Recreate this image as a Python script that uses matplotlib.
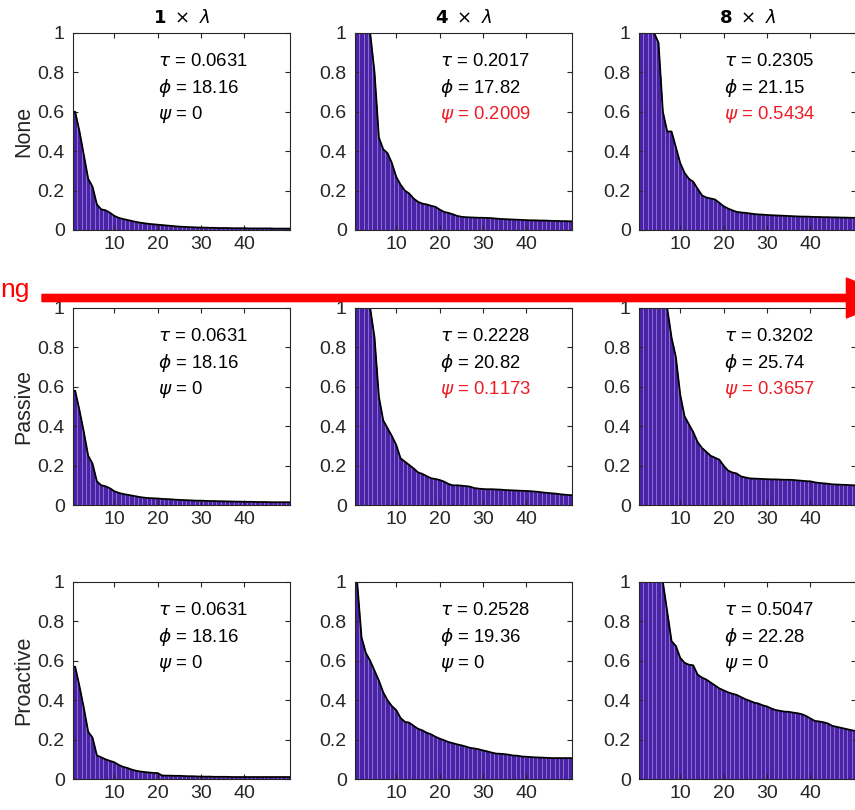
import matplotlib.pyplot as plt
import numpy as np
from matplotlib.patches import FancyArrowPatch

plt.rcParams['font.family'] = ['Liberation Sans', 'DejaVu Sans']
plt.rcParams['mathtext.fontset'] = 'dejavusans'

row_names = ['None', 'Passive', 'Proactive']
scales = ['1', '4', '8']

tau = [[0.0631, 0.2017, 0.2305],
       [0.0631, 0.2228, 0.3202],
       [0.0631, 0.2528, 0.5047]]
phi = [[18.16, 17.82, 21.15],
       [18.16, 20.82, 25.74],
       [18.16, 19.36, 22.28]]
psi = [[0, 0.2009, 0.5434],
       [0, 0.1173, 0.3657],
       [0, 0, 0]]

none_1 = [0.60, 0.50, 0.38, 0.26, 0.22, 0.13, 0.105, 0.10, 0.088, 0.072,
          0.062, 0.056, 0.051, 0.046, 0.041, 0.037, 0.034, 0.031, 0.029, 0.027,
          0.025, 0.023, 0.021, 0.019, 0.017, 0.016, 0.015, 0.014, 0.013, 0.012,
          0.012, 0.011, 0.011, 0.010, 0.010, 0.010, 0.009, 0.009, 0.009, 0.009,
          0.008, 0.008, 0.008, 0.008, 0.008, 0.008, 0.007, 0.007, 0.007, 0.007]
none_4 = [1.0, 1.0, 1.0, 1.0, 0.80, 0.47, 0.41, 0.39, 0.34, 0.27,
          0.23, 0.20, 0.185, 0.16, 0.143, 0.134, 0.13, 0.123, 0.118, 0.104,
          0.092, 0.087, 0.080, 0.072, 0.067, 0.065, 0.064, 0.063, 0.062, 0.062,
          0.061, 0.060, 0.058, 0.056, 0.055, 0.054, 0.053, 0.052, 0.051, 0.050,
          0.049, 0.049, 0.048, 0.048, 0.047, 0.046, 0.046, 0.045, 0.045, 0.044]
none_8 = [1.0, 1.0, 1.0, 1.0, 0.95, 0.60, 0.50, 0.50, 0.42, 0.34,
          0.29, 0.26, 0.245, 0.21, 0.176, 0.165, 0.16, 0.155, 0.138, 0.121,
          0.109, 0.10, 0.092, 0.089, 0.087, 0.084, 0.081, 0.079, 0.078, 0.076,
          0.075, 0.074, 0.073, 0.072, 0.071, 0.070, 0.069, 0.068, 0.068, 0.067,
          0.066, 0.066, 0.065, 0.065, 0.064, 0.064, 0.063, 0.063, 0.062, 0.062]

passive_1 = [0.58, 0.48, 0.37, 0.25, 0.21, 0.12, 0.10, 0.095, 0.085, 0.07,
             0.062, 0.056, 0.052, 0.048, 0.044, 0.040, 0.037, 0.035, 0.034, 0.033,
             0.031, 0.030, 0.029, 0.027, 0.026, 0.025, 0.024, 0.023, 0.022, 0.022,
             0.021, 0.020, 0.020, 0.019, 0.019, 0.018, 0.018, 0.017, 0.017, 0.016,
             0.016, 0.016, 0.015, 0.015, 0.015, 0.014, 0.014, 0.014, 0.014, 0.014]
passive_4 = [1.0, 1.0, 1.0, 1.0, 0.85, 0.55, 0.43, 0.39, 0.35, 0.305,
             0.237, 0.22, 0.203, 0.186, 0.166, 0.158, 0.147, 0.136, 0.132, 0.127,
             0.119, 0.107, 0.10, 0.10, 0.098, 0.096, 0.093, 0.086, 0.083, 0.081,
             0.080, 0.080, 0.079, 0.078, 0.076, 0.075, 0.074, 0.073, 0.072, 0.071,
             0.070, 0.068, 0.066, 0.063, 0.061, 0.059, 0.057, 0.054, 0.052, 0.050]
passive_8 = [1.0, 1.0, 1.0, 1.0, 1.0, 1.0, 1.0, 0.85, 0.75, 0.56,
             0.45, 0.41, 0.37, 0.32, 0.29, 0.27, 0.25, 0.24, 0.23, 0.20,
             0.175, 0.165, 0.16, 0.145, 0.14, 0.135, 0.134, 0.133, 0.132, 0.131,
             0.130, 0.130, 0.129, 0.128, 0.128, 0.127, 0.125, 0.123, 0.121, 0.120,
             0.115, 0.112, 0.110, 0.108, 0.105, 0.104, 0.103, 0.102, 0.101, 0.100]

proactive_1 = [0.57, 0.47, 0.36, 0.24, 0.21, 0.12, 0.11, 0.10, 0.092, 0.085,
               0.072, 0.062, 0.056, 0.048, 0.042, 0.038, 0.035, 0.033, 0.031, 0.030,
               0.018, 0.017, 0.017, 0.016, 0.016, 0.015, 0.014, 0.014, 0.013, 0.012,
               0.012, 0.012, 0.011, 0.011, 0.011, 0.011, 0.010, 0.010, 0.010, 0.010,
               0.010, 0.010, 0.010, 0.010, 0.010, 0.010, 0.010, 0.010, 0.010, 0.010]
proactive_4 = [1.0, 0.72, 0.64, 0.60, 0.55, 0.50, 0.44, 0.40, 0.37, 0.35,
               0.31, 0.29, 0.286, 0.27, 0.255, 0.247, 0.235, 0.227, 0.215, 0.205,
               0.197, 0.188, 0.182, 0.176, 0.171, 0.165, 0.158, 0.155, 0.151, 0.145,
               0.140, 0.134, 0.129, 0.128, 0.126, 0.123, 0.119, 0.118, 0.114, 0.113,
               0.111, 0.110, 0.109, 0.108, 0.107, 0.106, 0.106, 0.106, 0.106, 0.106]
proactive_8 = [1.0, 1.0, 1.0, 1.0, 1.0, 1.0, 0.85, 0.70, 0.675, 0.615,
               0.59, 0.58, 0.577, 0.53, 0.515, 0.505, 0.49, 0.475, 0.46, 0.45,
               0.44, 0.433, 0.427, 0.416, 0.405, 0.397, 0.388, 0.383, 0.374, 0.368,
               0.358, 0.35, 0.346, 0.342, 0.341, 0.337, 0.334, 0.329, 0.32, 0.307,
               0.295, 0.292, 0.288, 0.282, 0.27, 0.265, 0.26, 0.255, 0.25, 0.245]

panels = [[none_1, none_4, none_8],
          [passive_1, passive_4, passive_8],
          [proactive_1, proactive_4, proactive_8]]

face = '#4a22a6'
stripe = '#8a70d2'
dark = '#262626'

W, H = 855, 810
fig = plt.figure(figsize=(W / 100, H / 100), dpi=100)

col_left = [73, 355, 639]
row_top = [33, 308, 582]
ax_w, ax_h = 217, 197

for r in range(3):
    for c in range(3):
        ax = fig.add_axes([col_left[c] / W, 1 - (row_top[r] + ax_h) / H,
                           ax_w / W, ax_h / H])
        vals = np.array(panels[r][c])
        x = np.arange(1, len(vals) + 1)
        # filled profile padded out to the axis edges, with a light stripe per bin
        xs = np.concatenate([[0.5], x, [len(vals) + 0.5]])
        ys = np.concatenate([[vals[0]], vals, [vals[-1]]])
        ax.fill_between(xs, 0, ys, color=face, linewidth=0)
        edges = np.arange(1.5, len(vals), 1.0)
        ax.vlines(edges, 0, np.interp(edges, xs, ys), color=stripe, linewidth=0.7)
        ax.plot(xs, ys, color='black', linewidth=1.3)
        ax.set_xlim(0.5, 50.5)
        ax.set_ylim(0, 1)
        ax.set_xticks([10, 20, 30, 40])
        ax.set_yticks([0, 0.2, 0.4, 0.6, 0.8, 1])
        ax.set_yticklabels(['0', '0.2', '0.4', '0.6', '0.8', '1'])
        ax.tick_params(direction='in', top=True, right=True, length=3.5,
                       width=0.8, colors=dark, labelsize=14)
        ax.tick_params(axis='y', pad=6)
        ax.tick_params(axis='x', pad=4)
        for s in ax.spines.values():
            s.set_color(dark)
            s.set_linewidth(0.8)
            s.set_zorder(5)

        ps = psi[r][c]
        ps_txt = '0' if ps == 0 else '%.4f' % ps
        ps_col = 'black' if ps == 0 else '#ee1c25'
        ax.text(0.39, 0.853, r'$\tau$ = %.4f' % tau[r][c], transform=ax.transAxes,
                fontsize=13.3, va='center', color='black')
        ax.text(0.39, 0.72, r'$\phi$ = %.2f' % phi[r][c], transform=ax.transAxes,
                fontsize=13.3, va='center', color='black')
        ax.text(0.39, 0.584, r'$\psi$ = ' + ps_txt, transform=ax.transAxes,
                fontsize=13.3, va='center', color=ps_col)

        if r == 0:
            ax.set_title(r'$\mathbf{%s}\ \times\ \lambda$' % scales[c],
                         fontsize=13, pad=7)
        if c == 0:
            ax.set_ylabel(row_names[r], fontsize=15.5, color=dark, labelpad=2)

# arrow across the middle rows
y_arr = 1 - 298 / H
arrow = FancyArrowPatch((42 / W, y_arr), (897 / W, y_arr), transform=fig.transFigure,
                        arrowstyle='simple,head_length=1.4,head_width=1.1,tail_width=0.2',
                        mutation_scale=26, color='#ff0000', shrinkA=0, shrinkB=0)
fig.add_artist(arrow)
fig.text(0.5 / W, 1 - 297 / H, 'ng', color='#ff0000', fontsize=19,
         ha='left', va='baseline')

fig.savefig('out.png', dpi=100)
